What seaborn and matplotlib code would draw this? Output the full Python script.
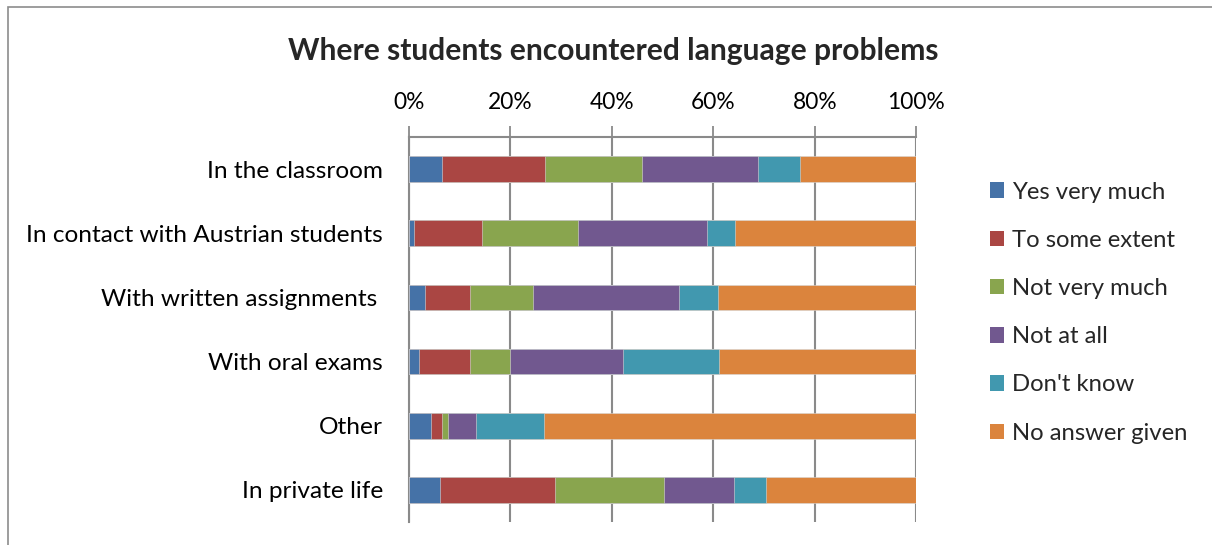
import numpy as np
import pandas as pd
import matplotlib
matplotlib.use("Agg")
import matplotlib.pyplot as plt
from matplotlib.patches import Patch, Rectangle
import seaborn as sns

categories = ["In the classroom", "In contact with Austrian students",
              "With written assignments ", "With oral exams", "Other",
              "In private life"]
series_names = ["Yes very much", "To some extent", "Not very much",
                "Not at all", "Don't know", "No answer given"]
yes_very_much = [6.6, 1.0, 3.3, 2.1, 4.4, 6.2]
to_some_extent = [20.3, 13.4, 8.8, 10.0, 2.2, 22.6]
not_very_much = [19.1, 18.9, 12.3, 7.9, 1.1, 21.4]
not_at_all = [22.9, 25.5, 28.8, 22.2, 5.6, 13.8]
dont_know = [8.1, 5.5, 7.8, 18.9, 13.3, 6.3]
no_answer = [23.0, 35.7, 39.0, 38.9, 73.4, 29.7]
tick_labels = ["0%", "20%", "40%", "60%", "80%", "100%"]

colors = ["#4572A7", "#AA4643", "#89A54E", "#71588F", "#4198AF", "#DB843D"]
grid_grey = "#8a8a8a"

sns.set_theme(style="white")
plt.rcParams["font.family"] = ["Lato", "DejaVu Sans"]

values = np.array([yes_very_much, to_some_extent, not_very_much,
                   not_at_all, dont_know, no_answer])
cumulative = values.cumsum(axis=0)
df = pd.DataFrame(cumulative.T, columns=series_names)
df["category"] = categories

fig = plt.figure(figsize=(12.12, 5.45), dpi=100)
ax = fig.add_axes([408.7 / 1212, 1 - 522 / 545, 507.6 / 1212, 385 / 545])

# stacked bars: draw running totals from the outermost segment inward
for name, color in reversed(list(zip(series_names, colors))):
    sns.barplot(data=df, x=name, y="category", order=categories,
                color=color, width=0.4, saturation=1, ax=ax,
                edgecolor="#d8d8d8", linewidth=0.4, zorder=3)

ax.set_xlim(0, 100)
ax.set_ylim(5.5, -0.5)
ax.set_xlabel("")
ax.set_ylabel("")
ax.xaxis.tick_top()
ax.set_xticks(np.arange(0, 101, 20))
ax.set_xticklabels(tick_labels)
ax.tick_params(axis="x", which="major", direction="out", length=8, width=1.3,
               color=grid_grey, labelsize=16.4, pad=9, labelcolor="black")
ax.set_yticks(range(len(categories)))
ax.set_yticklabels(categories)
ax.tick_params(axis="y", which="major", length=0, labelsize=17.6, pad=18.5,
               labelcolor="black")
ax.set_yticks(np.arange(-0.5, len(categories), 1), minor=True)
ax.tick_params(axis="y", which="minor", direction="out", length=8, width=1.3,
               color=grid_grey)

ax.grid(axis="x", color=grid_grey, linewidth=1.5, zorder=0)
ax.set_axisbelow(True)
for side in ["right", "bottom"]:
    ax.spines[side].set_visible(False)
for side in ["left", "top"]:
    ax.spines[side].set_color(grid_grey)
    ax.spines[side].set_linewidth(1.5)

handles = [Patch(facecolor=c, edgecolor="none") for c in colors]
fig.legend(handles, series_names, loc="upper left",
           bbox_to_anchor=(980 / 1212, 1 - 172 / 545), frameon=False,
           fontsize=17.2, handlelength=0.62, handleheight=0.62,
           handletextpad=0.3, labelspacing=1.14, borderaxespad=0)

fig.text(613 / 1212, 1 - 51 / 545, "Where students encountered language problems",
         ha="center", va="center", fontsize=21.6, fontweight="bold")

# outer chart frame (top and left edges visible, others run off the canvas)
fig.patches.append(Rectangle((8, -100), 1400, 538 + 100, transform=None,
                             fill=False, edgecolor="#8c8c8c", linewidth=1.2))

fig.savefig("out.png", dpi=100)
